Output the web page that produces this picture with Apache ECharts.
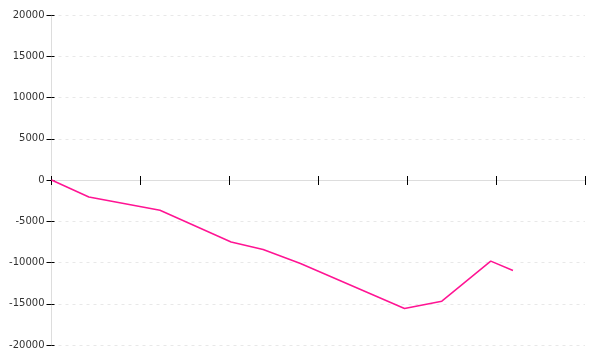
<!DOCTYPE html>
<html>
<head>
<meta charset="utf-8">
<script src="https://cdn.jsdelivr.net/npm/echarts@6/dist/echarts.min.js"></script>
<style>html,body{margin:0;padding:0;background:#fff;}#c{width:600px;height:360px;}</style>
</head>
<body>
<div id="c"></div>
<script>
var xValues = [0, 0.42, 1.22, 2.02, 2.38, 2.8, 3.97, 4.39, 4.94, 5.19];
var yValues = [0, -2060, -3660, -7520, -8420, -10120, -15580, -14690, -9840, -10970];
var yTicks = { min: -20000, max: 20000, interval: 5000 };
var xTicks = { min: 0, max: 6, interval: 1 };

var points = xValues.map(function (x, i) { return [x, yValues[i]]; });
var chart = echarts.init(document.getElementById('c'), null, { renderer: 'canvas' });
var font = 'DejaVu Sans';
chart.setOption({
  animation: false,
  grid: { left: 51.5, right: 15, top: 15, bottom: 15 },
  xAxis: [
    {
      type: 'value', min: xTicks.min, max: xTicks.max, interval: xTicks.interval,
      position: 'bottom',
      axisLine: { show: true, onZero: true, lineStyle: { color: '#dddddd', width: 1 } },
      axisTick: { show: true, length: 5, lineStyle: { color: '#000', width: 1 } },
      axisLabel: { show: false },
      splitLine: { show: false }
    },
    {
      type: 'value', min: xTicks.min, max: xTicks.max, interval: xTicks.interval,
      position: 'bottom',
      axisLine: { show: false, onZero: true },
      axisTick: { show: true, inside: true, length: 4, lineStyle: { color: '#000', width: 1 } },
      axisLabel: { show: false },
      splitLine: { show: false }
    }
  ],
  yAxis: [
    {
      type: 'value', min: yTicks.min, max: yTicks.max, interval: yTicks.interval,
      position: 'left',
      axisLine: { show: true, onZero: false, lineStyle: { color: '#dddddd', width: 1 } },
      axisTick: { show: true, length: 5, lineStyle: { color: '#000', width: 1 } },
      axisLabel: {
        color: '#333', fontSize: 10, fontFamily: font, margin: 7,
        formatter: function (v) { return String(v); }
      },
      splitLine: { show: true, lineStyle: { color: '#e8e8e8', type: [3, 4], width: 1 } }
    },
    {
      type: 'value', min: yTicks.min, max: yTicks.max, interval: yTicks.interval,
      position: 'left',
      axisLine: { show: false, onZero: false },
      axisTick: { show: true, inside: true, length: 3, lineStyle: { color: '#000', width: 1 } },
      axisLabel: { show: false },
      splitLine: { show: false }
    }
  ],
  series: [{
    type: 'line',
    xAxisIndex: 0, yAxisIndex: 0,
    data: points,
    showSymbol: false,
    symbol: 'none',
    lineStyle: { color: '#ff1493', width: 1.5 },
    itemStyle: { color: '#ff1493' }
  }]
});
</script>
</body>
</html>
